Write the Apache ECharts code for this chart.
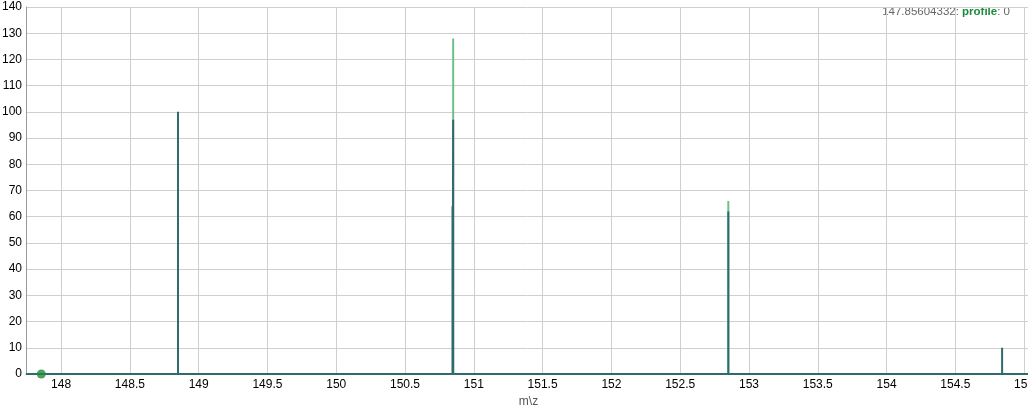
<!DOCTYPE html>
<html><head><meta charset="utf-8">
<script src="https://cdn.jsdelivr.net/npm/echarts@6/dist/echarts.min.js"></script>
<style>html,body{margin:0;padding:0;background:#fff}#c{width:1028px;height:405px}</style>
</head><body><div id="c"></div>
<script>
var profileMz = [150.85, 152.85];
var profileIntensity = [128, 66];
var peakMz = [148.85, 150.845, 150.85, 152.85, 154.84];
var peakIntensity = [100, 64, 97, 62, 10];
var markerMz = [147.85604332];
var markerIntensity = [0];
var yTicks = [0, 140, 10];
var xRange = [147.745, 155.05];

function sticks(mz, val) {
  var out = [[xRange[0], 0]];
  for (var i = 0; i < mz.length; i++) {
    out.push([mz[i], 0], [mz[i], val[i]], [mz[i], 0]);
  }
  out.push([xRange[1], 0]);
  return out;
}

var chart = echarts.init(document.getElementById('c'), null, {renderer: 'canvas'});
var font = 'Liberation Sans, Arial, sans-serif';
chart.setOption({
  animation: false,
  grid: {left: 26, right: -3, top: 7, bottom: 31, containLabel: false, outerBoundsMode: 'none'},
  xAxis: {
    type: 'value', min: xRange[0], max: xRange[1], splitNumber: 15,
    name: 'm\\z', nameLocation: 'middle', nameGap: 17,
    nameTextStyle: {color: '#555', fontSize: 12, fontFamily: font},
    axisLine: {show: true, lineStyle: {color: '#999'}},
    axisTick: {show: false},
    axisLabel: {color: '#000', fontSize: 12, fontFamily: font, margin: 5, showMinLabel: false, showMaxLabel: false, hideOverlap: false},
    splitLine: {show: true, lineStyle: {color: '#cfcfcf', width: 1}}
  },
  yAxis: {
    type: 'value', min: yTicks[0], max: yTicks[1], interval: yTicks[2],
    axisLine: {show: true, lineStyle: {color: '#999'}},
    axisTick: {show: false},
    axisLabel: {color: '#000', fontSize: 12, fontFamily: font, margin: 4},
    splitLine: {show: true, lineStyle: {color: '#cfcfcf', width: 1}}
  },
  series: [
    {type: 'line', data: sticks(profileMz, profileIntensity), symbol: 'none',
     lineStyle: {color: '#6cc08e', width: 2}, z: 2},
    {type: 'line', data: sticks(peakMz, peakIntensity), symbol: 'none',
     lineStyle: {color: '#2f6b6b', width: 2}, z: 3},
    {type: 'scatter', data: markerMz.map(function (m, i) { return [m, markerIntensity[i]]; }),
     symbolSize: 9, itemStyle: {color: '#1e8a3c'}, z: 4}
  ],
  graphic: [{
    type: 'text', right: 18, top: 6,
    style: {
      rich: {
        a: {fill: '#666', fontSize: 11.5, fontFamily: font},
        b: {fill: '#1e8a3c', fontSize: 11.5, fontWeight: 'bold', fontFamily: font}
      },
      text: '{a|147.85604332: }{b|profile}{a|: 0}'
    }
  }]
});
</script></body></html>
